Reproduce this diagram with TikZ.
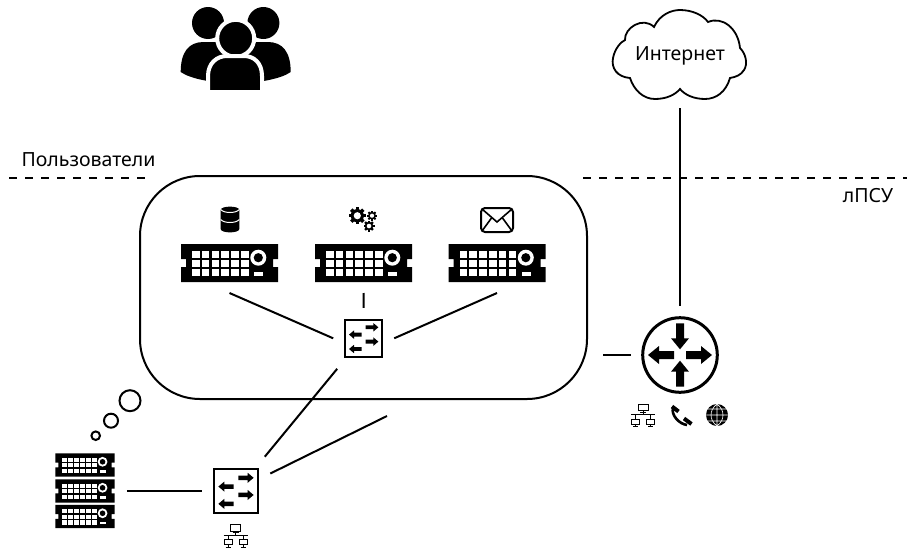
\documentclass[tikz,border=0pt]{standalone}
\usepackage{fontspec}
\setmainfont{Noto Sans}
\usetikzlibrary{positioning}
\newcommand{\fatarrow}[4]{(0,-#2) -- (#1-#3,-#2) -- (#1-#3,-#4) -- (#1,0) -- (#1-#3,#4) -- (#1-#3,#2) -- (0,#2) -- cycle}
\tikzset{
    netnode/.style={inner sep=0pt,outer sep=12pt},
    srvnode/.style={netnode,outer sep=11pt,minimum width=97,minimum height=38},
    swnode/.style={netnode,draw,line width=2pt,minimum size=37},
    textnode/.style={inner sep=0pt,font=\fontsize{19.5}{23}\selectfont},
    link/.style={line width=2pt},
    zone/.style={line width=2pt,dash pattern=on 8pt off 8pt},
    pics/server/.style={code={
        \fill (-48.5,-19) -- (48.5,-19) -- (48.5,-4) -- (43.5,-4) -- (43.5,4) -- (48.5,4) -- (48.5,19)
            -- (-48.5,19) -- (-48.5,4) -- (-43.5,4) -- (-43.5,-4) -- (-48.5,-4) -- cycle;
        \foreach \c in {0,...,5}
            \foreach \r in {0,1,2}
                \fill[white] (-37.5+9.8*\c,-12.3+9.3*\r) rectangle ++(7.6,7);
        \fill[white] (28.8,-5.3) circle[radius=8];
        \fill (28.8,-5.3) circle[radius=4.6];
        \fill[white] (24.8,8.7) rectangle (33.8,12.7);
    }},
    pics/switchface/.style={code={
        \fill[shift={(2,-11)}] \fatarrow{12.7}{1.9}{5}{4.2};
        \fill[shift={(2,3.3)}] \fatarrow{12.7}{1.9}{5}{4.2};
        \fill[shift={(-2,-3.7)},rotate=180] \fatarrow{12.7}{1.9}{5}{4.2};
        \fill[shift={(-2,10.7)},rotate=180] \fatarrow{12.7}{1.9}{5}{4.2};
    }},
    pics/routerface/.style={code={
        \fill[shift={(0,-31.7)},rotate=-90] \fatarrow{26}{4}{11}{9};
        \fill[shift={(0,31.7)},rotate=90] \fatarrow{26}{4}{11}{9};
        \fill[shift={(-6,0)},rotate=180] \fatarrow{26}{4}{11}{9};
        \fill[shift={(6,0)}] \fatarrow{26}{4}{11}{9};
    }},
    pics/gear/.style={code={
        \fill circle[radius=0.78*#1];
        \foreach \a in {0,45,...,315}
            \fill[rotate=\a] (-0.2*#1,0) rectangle (0.2*#1,#1);
        \fill[white] circle[radius=0.42*#1];
    }},
    pics/lan/.style={code={
        \draw[line width=0.8pt] (-5,-11.3) rectangle (5,-5) (0,-5) -- (0,-1) (-3,-3.6) -- (3,-3.6)
            (-12,-1) -- (12,-1) (-7.5,-1) -- (-7.5,3.5) (7.5,-1) -- (7.5,3.5)
            (-11.5,3.5) rectangle (-3.5,8.5) (3.5,3.5) rectangle (11.5,8.5)
            (-7.5,8.5) -- (-7.5,11) (7.5,8.5) -- (7.5,11) (-10,11) -- (-5,11) (5,11) -- (10,11);
    }},
    pics/person/.style={code={
        \fill (-27.7,-25) circle[radius=16];
        \fill (-55,24) .. controls (-55,4) and (-47,-6) .. (-32,-6) -- (-5,-6) -- (-5,36)
            .. controls (-25,34) and (-45,31) .. (-55,24) -- cycle;
    }}
}
\begin{document}
\begin{tikzpicture}[x=1pt,y=-1pt]
    \useasboundingbox (0,0) rectangle (907,549);
    \coordinate (usersl) at (9,178);
    \coordinate (usersr) at (145,178);
    \coordinate (zonel) at (583,178);
    \coordinate (zoner) at (907,178);
    \coordinate (dmzend) at (387,416);
    \coordinate (wanend) at (603,355);
    \draw[zone] (usersl) -- (usersr);
    \draw[zone] (zonel) -- (zoner);
    \node[textnode] (users) at (88.5,160) {Пользователи};
    \node[textnode] (lpsu) at (868,196) {лПСУ};

    \node[draw,line width=2pt,rounded corners=60,minimum width=447,minimum height=223] (dmz) at (363.5,287.5) {};

    \pic at (235.7,48) {person};
    \pic[xscale=-1] at (235.7,48) {person};
    \draw[white,line width=4pt,fill=black] (235.7,38.3) circle[radius=18.5];
    \draw[white,line width=4pt,fill=black] (208,92) -- (208,76) .. controls (208,63) and (217,56) .. (227,56) -- (244,56)
        .. controls (254,56) and (262,63) .. (262,76) -- (262,92) -- cycle;
    \fill[white] (200,90) rectangle (270,96);

    \draw[line width=1.8pt] (680,10) .. controls (692,10) and (703,15) .. (708,22)
        .. controls (722,16) and (738,28) .. (740,48) .. controls (746,54) and (748,64) .. (744,70)
        .. controls (741,75) and (736,77) .. (730,78) .. controls (726,92) and (716,99) .. (705,99)
        .. controls (694,99) and (685,95) .. (680,89) .. controls (675,95) and (666,99) .. (655,99)
        .. controls (643,99) and (634,90) .. (630,78) .. controls (617,77) and (611,68) .. (613,58)
        .. controls (615,48) and (621,42) .. (625,40) .. controls (624,28) and (643,16) .. (654,27)
        .. controls (660,14) and (672,10) .. (680,10) -- cycle;
    \node[netnode,outer sep=9pt,minimum height=86,font=\fontsize{19.5}{23}\selectfont] (inet) at (680,56) {Интернет};

    \node[srvnode] (srvdb) at (229.5,263) {};
    \node[srvnode] (srvapp) at (363.5,263) {};
    \node[srvnode] (srvmail) at (497,263) {};
    \pic at (srvdb) {server};
    \pic at (srvapp) {server};
    \pic at (srvmail) {server};

    \fill (220.7,210) .. controls (220.7,205.5) and (239.3,205.5) .. (239.3,210) -- (239.3,229)
        .. controls (239.3,233.5) and (220.7,233.5) .. (220.7,229) -- cycle;
    \draw[white,line width=1pt] (220.7,209.5) .. controls (224,213.5) and (236,213.5) .. (239.3,209.5);
    \draw[white,line width=1pt] (220.7,219.5) .. controls (224,223.5) and (236,223.5) .. (239.3,219.5);

    \pic at (357.3,215.7) {gear=8.5};
    \pic at (372,215.7) {gear=5};
    \pic at (369,226) {gear=5.5};

    \draw[line width=2pt,rounded corners=4pt] (481,208) rectangle (513,232);
    \draw[line width=1.6pt] (482,209) -- (497,222) -- (512,209) (482,231) -- (491.5,218) (512,231) -- (502.5,218);

    \node[swnode] (swcore) at (363.7,338.3) {};
    \pic at (swcore) {switchface};
    \draw[link] (srvdb.south) -- (swcore.west);
    \draw[link] (srvapp.south) -- (swcore.north);
    \draw[link] (srvmail.south) -- (swcore.east);

    \node[netnode,draw,line width=3pt,circle,minimum size=74.6] (router) at (680,355) {};
    \pic at (router) {routerface};
    \draw[link] (inet.south) -- (router.north);
    \draw[link] (wanend) -- (router.west);
    \pic at (643,415.5) {lan};
    \draw[line width=2.6pt] (673,408) .. controls (671,415) and (679,424) .. (687,425);
    \draw[line width=4pt] (672,406.5) -- (678.5,411.5) (684,418.5) -- (691.5,424);
    \fill (717,415) circle[radius=11];
    \draw[white,line width=0.6pt] (717,404) -- (717,426) (706,415) -- (728,415) (717,404) .. controls (709,410) and (709,420) .. (717,426)
        (717,404) .. controls (725,410) and (725,420) .. (717,426) (708,409) -- (726,409) (708,421) -- (726,421);

    \node[netnode,draw,line width=2pt,minimum size=44.6] (swedge) at (236,491) {};
    \pic[scale=1.2] at (swedge) {switchface};
    \pic at (235.7,536) {lan};
    \draw[link] (swcore.229) -- (swedge.50);
    \draw[link] (swedge.27) -- (dmzend);

    \node[srvnode,outer sep=12pt,minimum width=59.5,minimum height=23.3] (rackmid) at (85,491) {};
    \pic[scale=0.61] at (85,465) {server};
    \pic[scale=0.61] at (rackmid) {server};
    \pic[scale=0.61] at (85,516.5) {server};
    \draw[link] (rackmid.east) -- (swedge.west);

    \draw[line width=2pt] (130,400.7) circle[radius=10.5];
    \draw[line width=2pt] (111,420.7) circle[radius=7];
    \draw[line width=2pt] (95.7,435.7) circle[radius=4.3];
\end{tikzpicture}
\end{document}
